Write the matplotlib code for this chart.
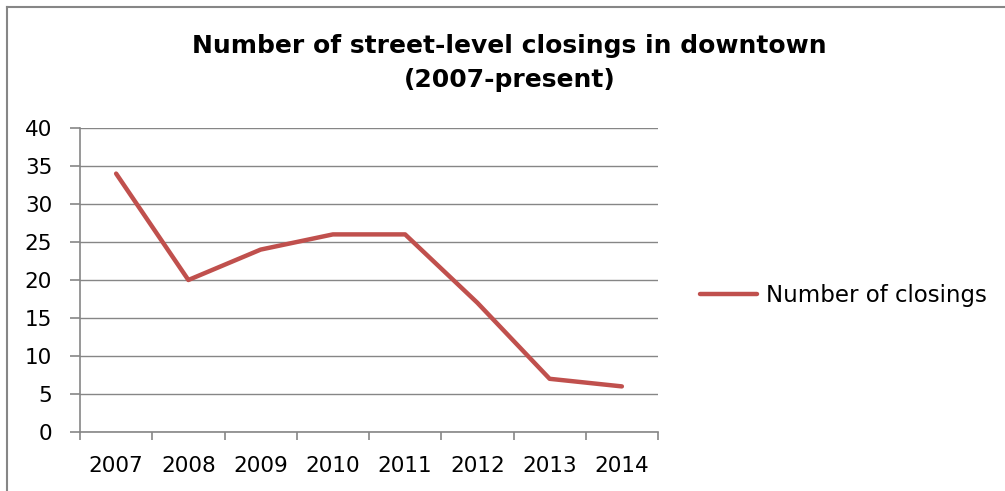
import matplotlib
matplotlib.use('Agg')
import matplotlib.pyplot as plt
from matplotlib.lines import Line2D

years = ['2007', '2008', '2009', '2010', '2011', '2012', '2013', '2014']
closings = [34, 20, 24, 26, 26, 17, 7, 6]
y_ticks = [0, 5, 10, 15, 20, 25, 30, 35, 40]

red = '#C0504D'
gray = '#868686'

fig = plt.figure(figsize=(10.05, 4.91), dpi=100)
ax = fig.add_axes([80 / 1005, 59 / 491, 578 / 1005, 304 / 491])

x = range(len(years))
ax.plot(x, closings, color=red, linewidth=3.2, solid_capstyle='round',
        label='Number of closings')

ax.set_xlim(-0.5, len(years) - 0.5)
ax.set_ylim(0, 40)
ax.set_yticks(y_ticks)
ax.set_xticks(x)
ax.set_xticklabels(years)
ax.set_xticks([i - 0.5 for i in range(len(years) + 1)], minor=True)

ax.grid(axis='y', color=gray, linewidth=1)
ax.set_axisbelow(True)
for s in ['top', 'right']:
    ax.spines[s].set_visible(False)
for s in ['left', 'bottom']:
    ax.spines[s].set_color(gray)
    ax.spines[s].set_linewidth(1.2)

ax.tick_params(axis='x', which='major', length=0, labelsize=15.5, pad=17)
ax.tick_params(axis='x', which='minor', length=6, color=gray, width=1.2)
ax.tick_params(axis='y', length=7, color=gray, width=1.2, labelsize=15.5, pad=13)

fig.text(0.507, 0.872, 'Number of street-level closings in downtown\n(2007-present)',
         ha='center', va='center', fontsize=18, fontweight='bold', linespacing=1.55)

leg = ax.legend(loc='center left', bbox_to_anchor=(1.037, 0.448), frameon=False,
                fontsize=16.5, handlelength=2.5, handletextpad=0.4)

# outer chart frame (only left and top visible in the crop)
fig.add_artist(Line2D([7 / 1005, 7 / 1005], [0, 1 - 7 / 491],
                      transform=fig.transFigure, color=gray, linewidth=1.5))
fig.add_artist(Line2D([7 / 1005, 1], [1 - 7 / 491, 1 - 7 / 491],
                      transform=fig.transFigure, color=gray, linewidth=1.5))

fig.savefig('out.png', dpi=100)
